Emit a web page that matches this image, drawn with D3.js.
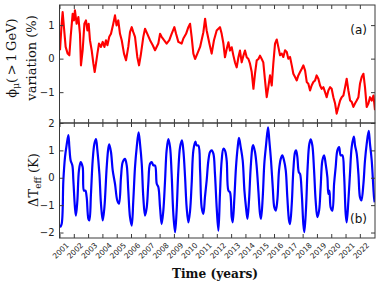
<!DOCTYPE html>
<html>
<head>
<meta charset="utf-8">
<script src="https://cdn.jsdelivr.net/npm/d3@7"></script>
<style>
  html, body { margin: 0; padding: 0; background: #fff; }
  svg { display: block; }
</style>
</head>
<body>
<svg id="chart" width="381" height="286"></svg>
<script>
// ---------------- data ----------------
const yearLabels = ["2001","2002","2003","2004","2005","2006","2007","2008","2009","2010","2011",
  "2012","2013","2014","2015","2016","2017","2018","2019","2020","2021","2022"];
const topTicks = [-1, 0, 1];
const bottomTicks = [-2, -1, 0, 1, 2];

// muon flux variation (%) - panel (a)
const muonYears = [
  2001.035,2001.15,2001.22,2001.31,2001.43,2001.57,2001.69,2001.78,2001.92,2002.01,
  2002.08,2002.20,2002.32,2002.43,2002.50,2002.62,2002.74,2002.85,2002.95,2003.04,
  2003.13,2003.25,2003.37,2003.46,2003.55,2003.65,2003.76,2003.90,2004.02,2004.14,
  2004.25,2004.35,2004.48,2004.60,2004.76,2004.88,2004.99,2005.11,2005.23,2005.35,
  2005.51,2005.65,2005.81,
  2005.93,2006.05,2006.16,2006.28,2006.44,2006.56,2006.68,2006.86,2006.98,2007.14,
  2007.33,2007.52,2007.68,2007.91,2008.03,2008.14,2008.31,2008.49,2008.68,2008.84,
  2009.03,2009.15,2009.31,2009.54,2009.66,2009.85,2010.01,2010.13,2010.24,2010.36,
  2010.48,2010.64,2010.83,2011.06,2011.18,2011.29,2011.48,2011.64,2011.80,2011.99,
  2012.22,2012.34,2012.46,2012.57,2012.69,2012.81,2012.92,2013.04,2013.16,2013.27,
  2013.39,2013.51,2013.62,2013.74,2013.86,2013.97,2014.09,2014.21,2014.32,2014.44,
  2014.56,2014.67,2014.79,2014.91,2015.02,2015.14,2015.25,2015.37,2015.49,2015.60,
  2015.72,2015.84,2015.95,2016.07,2016.19,2016.30,2016.42,2016.54,2016.65,2016.77,
  2016.89,2017.00,2017.12,2017.24,2017.35,2017.47,2017.59,2017.70,2017.82,2017.94,
  2018.05,2018.17,2018.29,2018.40,2018.52,2018.63,2018.75,2018.87,2018.98,2019.10,
  2019.22,2019.33,2019.45,2019.57,2019.68,2019.80,2019.92,2020.03,2020.15,2020.27,
  2020.38,2020.50,2020.62,2020.73,2020.85,2020.97,2021.08,2021.20,2021.32,2021.43,
  2021.55,2021.66,2021.78,2021.90,2022.01,2022.13,2022.25,2022.36,2022.48,2022.60,
  2022.71,2022.83,2022.95,2023.06
];
const muonValues = [
  0.25,1.04,1.39,0.94,0.35,0.15,0.10,0.65,1.34,1.14,
  1.44,1.04,1.24,0.74,-0.20,0.25,1.04,1.14,0.84,1.04,
  0.55,0.25,-0.15,-0.40,-0.15,0.15,0.45,0.35,0.50,0.35,
  0.55,0.40,0.65,0.74,1.04,1.29,0.99,1.14,0.74,0.55,
  0.15,-0.05,0.35,
  0.79,0.94,0.79,0.65,0.05,-0.20,0.10,0.65,0.89,0.74,
  0.55,0.40,0.25,0.45,0.74,0.65,0.55,0.45,0.55,0.74,
  0.94,0.74,0.50,0.45,0.60,0.74,0.94,1.04,0.65,0.15,
  -0.01,0.15,0.35,0.79,1.19,0.84,0.45,0.15,0.55,0.84,
  0.94,0.74,0.45,0.04,0.29,0.49,0.24,0.34,0.09,-0.11,
  -0.26,0.04,0.24,-0.11,0.09,0.24,0.04,-0.01,-0.15,-0.40,
  -0.90,-0.45,-0.05,-0.01,0.09,-0.01,-0.11,-0.65,-1.15,-0.85,
  -0.50,-0.80,-0.15,0.45,0.57,0.35,0.10,0.15,0.05,0.25,
  0.20,0.00,0.05,-0.20,-0.45,-0.55,-0.65,-0.50,-0.40,-0.30,
  -0.20,-0.35,-0.70,-0.75,-0.95,-0.80,-0.70,-0.65,-0.50,-0.60,
  -0.80,-0.90,-0.85,-1.00,-1.15,-0.95,-0.85,-0.90,-1.15,-1.34,
  -1.64,-1.44,-1.25,-1.15,-1.10,-0.85,-0.60,-0.95,-1.25,-1.29,
  -1.44,-1.34,-1.25,-1.15,-0.75,-0.55,-0.45,-0.85,-1.44,-1.34,
  -1.15,-1.25,-1.10,-1.54
];

// effective temperature variation (K) - panel (b)
const tempYears = [
  2001.04,2001.15,2001.27,2001.385,2001.50,2001.62,2001.69,2001.78,2001.90,2001.97,
  2002.08,2002.15,2002.25,2002.36,2002.48,2002.62,2002.71,2002.81,2002.90,2003.02,
  2003.09,2003.20,2003.32,2003.44,2003.55,2003.65,2003.79,2003.90,2004.02,2004.14,
  2004.30,2004.41,2004.48,2004.60,2004.72,2004.88,2005.04,2005.16,2005.30,2005.42,
  2005.58,2005.70,2005.81,2005.93,2006.05,2006.16,2006.28,2006.40,2006.53,2006.63,
  2006.75,2006.86,2006.98,2007.10,2007.21,2007.33,2007.45,2007.56,2007.68,2007.80,
  2007.91,2008.03,2008.14,2008.26,2008.38,2008.49,2008.61,2008.73,2008.84,2008.96,
  2009.08,2009.19,2009.31,2009.43,2009.56,2009.66,2009.78,2009.89,2010.01,2010.13,
  2010.24,2010.36,2010.50,2010.59,2010.71,2010.83,2010.94,2011.06,2011.17,2011.29,
  2011.41,2011.525,2011.64,2011.76,2011.87,2011.99,2012.11,
  2012.22,2012.34,2012.46,2012.57,2012.69,2012.81,2012.92,2013.04,2013.11,2013.23,
  2013.34,2013.46,2013.55,2013.67,2013.81,2013.93,2014.04,2014.14,2014.25,2014.37,
  2014.49,2014.54,2014.67,2014.79,2014.905,2015.02,2015.09,2015.21,2015.32,2015.44,
  2015.58,2015.67,2015.79,2015.91,2016.02,2016.12,2016.23,2016.35,2016.47,2016.58,
  2016.70,2016.82,2016.93,2017.05,2017.12,2017.24,2017.35,2017.47,2017.54,2017.63,
  2017.73,2017.82,2017.94,2018.05,2018.12,2018.24,2018.35,2018.47,2018.57,2018.68,
  2018.80,2018.91,2019.03,2019.15,2019.26,2019.38,2019.50,2019.61,2019.73,2019.80,
  2019.87,2019.96,2020.08,2020.20,2020.31,2020.43,2020.55,2020.66,2020.78,2020.895,
  2021.01,2021.08,2021.20,2021.31,2021.43,2021.58,2021.665,2021.78,2021.90,2022.01,
  2022.11,2022.25,2022.36,2022.48,2022.62,2022.71,2022.83,2022.99,2023.04
];
const tempValues = [
  -1.81,-1.69,-0.10,0.75,1.20,1.56,1.12,0.63,0.45,-0.10,
  -1.08,-1.38,-0.83,0.27,0.57,0.39,-0.47,-0.47,-0.71,-1.50,
  -1.56,-0.59,0.63,1.24,1.41,1.00,0.14,-0.95,-1.56,-1.08,
  0.39,1.06,1.22,0.94,0.27,-0.22,-0.83,-0.95,0.02,0.57,
  0.69,0.45,-0.47,-1.44,-1.75,-0.83,0.39,1.12,1.66,1.24,
  0.51,-0.71,-1.38,-1.08,-0.22,0.51,0.57,0.45,0.45,-0.22,
  -0.34,-1.08,-1.69,-1.20,-0.10,1.00,1.41,1.12,0.14,-1.32,
  -1.99,-1.20,0.27,1.12,1.37,1.00,0.02,-1.08,-1.63,-1.20,
  -0.22,1.00,1.32,1.18,1.18,0.27,-1.08,-1.32,-0.71,-0.10,
  0.63,0.94,1.00,0.88,0.14,-1.08,-1.93,
  -0.59,0.63,1.06,1.00,0.63,-0.47,-0.53,-1.44,-1.63,-0.71,
  0.39,1.12,1.46,1.12,0.63,-0.47,-1.08,-1.50,-0.83,0.39,
  1.12,1.19,0.94,0.39,-0.47,-1.32,-1.50,-0.71,0.51,1.18,
  1.84,1.37,0.63,-0.34,-1.08,-1.20,-0.83,0.27,0.69,0.82,
  0.63,0.27,-0.71,-1.56,-1.69,-0.95,0.27,0.94,1.00,0.76,
  0.21,0.14,-0.59,-1.69,-1.99,-1.08,0.39,1.24,1.40,1.18,
  0.27,-0.83,-1.44,-1.20,-0.34,0.63,0.82,0.51,0.02,-0.59,
  -0.47,-1.08,-1.20,-0.22,0.39,1.00,1.12,0.82,0.82,0.14,
  -1.32,-1.63,-0.83,0.14,1.12,1.50,1.18,0.88,0.14,-0.71,
  -0.83,-0.22,0.63,1.24,1.71,1.24,0.63,-0.71,-0.90
];

// ---------------- layout ----------------
const svg = d3.select("#chart");
const L = 59.5, R = 375;
const topY0 = 5, midY = 123, botY1 = 238;
const frameColor = "#3a3a3a";
const tickLen = 4;

const x = d3.scaleLinear().domain([2001, 2023.06]).range([L, R]);
const yTop = d3.scaleLinear().domain([-1.92, 1.6]).range([midY, topY0]);
const yBot = d3.scaleLinear().domain([-2.2, 2.0]).range([botY1, midY]);
const yearTickVals = yearLabels.map(Number);

function panel(yScale, yT, yB, yTicks) {
  const g = svg.append("g");
  const left = d3.axisLeft(yScale).tickValues(yTicks).tickSize(-tickLen).tickPadding(5)
    .tickFormat(d => d < 0 ? "\u2212" + Math.abs(d) : String(d));
  const gl = g.append("g").attr("transform", `translate(${L},0)`).call(left);
  gl.select(".domain").remove();
  gl.selectAll("line").attr("stroke", frameColor);
  gl.selectAll("text").attr("font-family", "DejaVu Sans").attr("font-size", 10).attr("fill", "#222");
  const right = d3.axisRight(yScale).tickValues(yTicks).tickSize(-tickLen).tickFormat("");
  const gr = g.append("g").attr("transform", `translate(${R},0)`).call(right);
  gr.select(".domain").remove();
  gr.selectAll("line").attr("stroke", frameColor);
  const topA = d3.axisTop(x).tickValues(yearTickVals).tickSize(-tickLen).tickFormat("");
  const gt = g.append("g").attr("transform", `translate(0,${yT})`).call(topA);
  gt.select(".domain").remove();
  gt.selectAll("line").attr("stroke", frameColor);
  const botA = d3.axisBottom(x).tickValues(yearTickVals).tickSize(-tickLen).tickFormat("");
  const gb = g.append("g").attr("transform", `translate(0,${yB})`).call(botA);
  gb.select(".domain").remove();
  gb.selectAll("line").attr("stroke", frameColor);
  return g;
}

const defs = svg.append("defs");
defs.append("clipPath").attr("id", "clipTop").append("rect")
  .attr("x", L).attr("y", topY0).attr("width", R - L).attr("height", midY - topY0);
defs.append("clipPath").attr("id", "clipBot").append("rect")
  .attr("x", L).attr("y", midY).attr("width", R - L).attr("height", botY1 - midY);

const muonData = muonYears.map((t, i) => [t, muonValues[i]]);
const tempData = tempYears.map((t, i) => [t, tempValues[i]]);

svg.append("path").datum(muonData)
  .attr("clip-path", "url(#clipTop)")
  .attr("fill", "none").attr("stroke", "#ff0000").attr("stroke-width", 2.1)
  .attr("stroke-linejoin", "round")
  .attr("d", d3.line().x(d => x(d[0])).y(d => yTop(d[1])));

svg.append("path").datum(tempData)
  .attr("clip-path", "url(#clipBot)")
  .attr("fill", "none").attr("stroke", "#0000ff").attr("stroke-width", 2.2)
  .attr("stroke-linejoin", "round")
  .attr("d", d3.line().curve(d3.curveCatmullRom.alpha(0.5)).x(d => x(d[0])).y(d => yBot(d[1])));

panel(yTop, topY0, midY, topTicks);
panel(yBot, midY, botY1, bottomTicks);

svg.append("rect").attr("x", L).attr("y", topY0).attr("width", R - L).attr("height", midY - topY0)
  .attr("fill", "none").attr("stroke", frameColor).attr("stroke-width", 1);
svg.append("rect").attr("x", L).attr("y", midY).attr("width", R - L).attr("height", botY1 - midY)
  .attr("fill", "none").attr("stroke", frameColor).attr("stroke-width", 1);

svg.append("g").selectAll("text").data(yearLabels).join("text")
  .attr("transform", d => `translate(${x(+d) + 8},${botY1 + 6}) rotate(-45)`)
  .attr("text-anchor", "end")
  .attr("dy", "0.35em")
  .attr("font-family", "DejaVu Sans").attr("font-size", 7.5).attr("fill", "#222")
  .text(d => d);

svg.append("text").attr("x", 367).attr("y", 34).attr("text-anchor", "end")
  .attr("font-family", "DejaVu Sans").attr("font-size", 12).attr("fill", "#111").text("(a)");
svg.append("text").attr("x", 367).attr("y", 223).attr("text-anchor", "end")
  .attr("font-family", "DejaVu Sans").attr("font-size", 12).attr("fill", "#111").text("(b)");

const yl1 = svg.append("text")
  .attr("transform", "translate(16,58) rotate(-90)")
  .attr("text-anchor", "middle")
  .attr("font-family", "DejaVu Serif").attr("font-size", 13).attr("fill", "#111");
yl1.append("tspan").text("\u03d5");
yl1.append("tspan").attr("font-size", 9).attr("dy", 3).text("\u03bc");
yl1.append("tspan").attr("dy", -3).text("(\u2009>\u20091\u2009GeV)");

svg.append("text")
  .attr("transform", "translate(36,58) rotate(-90)")
  .attr("text-anchor", "middle")
  .attr("font-family", "DejaVu Serif").attr("font-size", 13).attr("fill", "#111")
  .text("variation (%)");

const yl2 = svg.append("text")
  .attr("transform", "translate(38,180) rotate(-90)")
  .attr("text-anchor", "middle")
  .attr("font-family", "DejaVu Serif").attr("font-size", 13).attr("fill", "#111");
yl2.append("tspan").text("\u0394T");
yl2.append("tspan").attr("font-size", 9).attr("dy", 3).text("eff");
yl2.append("tspan").attr("dy", -3).text(" (K)");

svg.append("text").attr("x", 215).attr("y", 278).attr("text-anchor", "middle")
  .attr("font-family", "DejaVu Serif").attr("font-size", 12.2).attr("font-weight", "bold")
  .attr("fill", "#111").text("Time (years)");
</script>
</body>
</html>
